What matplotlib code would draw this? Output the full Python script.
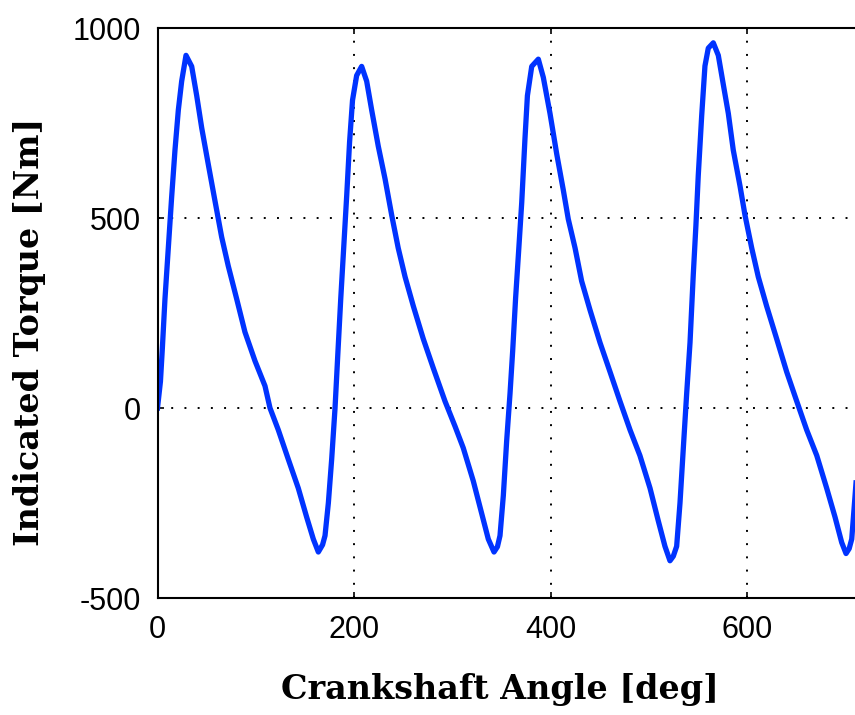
import matplotlib
matplotlib.use("Agg")
import matplotlib.pyplot as plt

plt.rcParams["axes.unicode_minus"] = False

# Indicated torque of a four-cylinder engine over two revolutions
angle = [0, 3, 5, 7.6, 11, 14.4, 17.8, 21.2, 24.6, 29, 34.8, 39.9, 45, 51.7, 58.5,
         65.3, 72, 80.6, 89, 99.2, 109.4, 114.5, 123, 133, 143.3, 151.8, 158.6,
         163.7, 168, 170.5, 173.9, 177.3, 180.7, 183.5, 186.5, 189.5, 192.6, 195.5,
         198.5, 202.7, 207.8, 212.9, 218, 224.7, 231.6, 238.4, 245, 252, 260.4,
         270.5, 280.7, 292.6, 302.8, 311.2, 321.4, 330, 336.7, 342.5, 346, 348.6,
         352, 355.4, 358.8, 361.5, 364.5, 367.5, 370.7, 374, 376.5, 380.9, 387.6,
         392.7, 399.5, 406.3, 413, 418.1, 425, 431.7, 440.2, 450.4, 460.6, 470.7,
         481, 491, 501.3, 509.7, 516.5, 521.6, 525, 528.4, 531.8, 535.2, 538.6,
         542, 545.3, 548, 550.4, 553.9, 557.2, 560.6, 565.7, 570.8, 575.9, 581,
         586, 592.9, 598, 604.8, 611.5, 620, 630.2, 640.4, 650.6, 660.8, 671,
         681.1, 689.6, 696.4, 700.8, 704, 706.6, 710, 714, 718, 720]
torque = [0, 70, 160, 287, 421, 555, 679, 784, 860, 928, 899, 822, 737, 641, 545,
          450, 374, 287, 200, 124, 58, 0, -58, -134, -211, -287, -345,
          -379, -360, -336, -250, -134, 0, 140, 287, 421, 560, 700,
          810, 875, 899, 860, 784, 689, 603, 507, 421, 345, 268,
          182, 105, 18, -48, -105, -192, -278, -345, -379, -365, -336,
          -230, -86, 38, 150, 290, 410, 540, 708, 822, 899, 918,
          870, 775, 669, 574, 497, 421, 334, 258, 172, 95, 18,
          -58, -125, -211, -297, -364, -402, -390, -364, -250, -105, 38,
          172, 350, 480, 612, 770, 900, 947, 961, 928, 851, 775,
          679, 584, 507, 421, 345, 268, 182, 95, 18, -58, -125,
          -211, -287, -354, -383, -370, -345, -230, -90, 0, 70]

x_ticks = [0, 200, 400, 600]
y_ticks = [-500, 0, 500, 1000]

W, H = 855, 715
fig = plt.figure(figsize=(W / 100, H / 100), dpi=100)
# axes run past the right edge of the picture, like the reference
ax = fig.add_axes([157.5 / W, (H - 598) / H, 707.4 / W, 570 / H])

ax.plot(angle, torque, color="#0033ff", lw=3.8, solid_joinstyle="round")

ax.set_xlim(0, 720)
ax.set_ylim(-500, 1000)
ax.set_xticks(x_ticks)
ax.set_yticks(y_ticks)
ax.grid(True, color="black", lw=1.4, linestyle=(0, (1, 5.8)))

for s in ax.spines.values():
    s.set_linewidth(1.5)
ax.tick_params(direction="in", top=True, right=True, length=4.5, width=1.2,
               labelsize=22, pad=12)
for lab in ax.get_xticklabels() + ax.get_yticklabels():
    lab.set_family("Liberation Sans")

fig.text(500 / W, 1 - 690 / H, "Crankshaft Angle [deg]", ha="center", va="center",
         fontsize=24, fontweight="bold", family="DejaVu Serif")
fig.text(30 / W, 1 - 332 / H, "Indicated Torque [Nm]", ha="center", va="center",
         rotation=90, fontsize=24, fontweight="bold", family="DejaVu Serif")

fig.savefig("out.png", dpi=100)
